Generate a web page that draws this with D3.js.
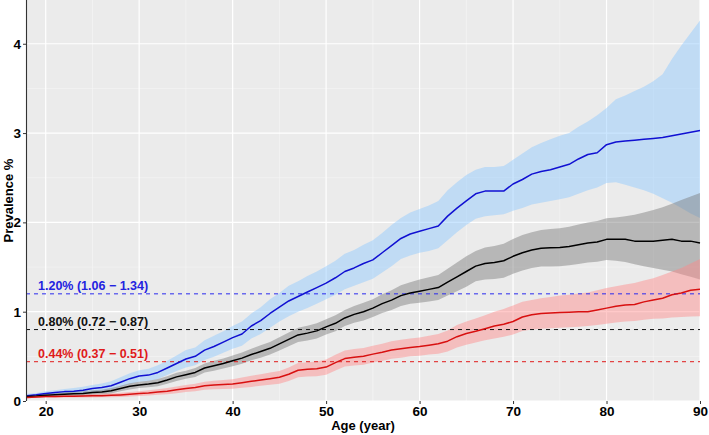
<!DOCTYPE html>
<html>
<head>
<meta charset="utf-8">
<script src="https://cdn.jsdelivr.net/npm/d3@7"></script>
<style>
  html, body { margin: 0; padding: 0; background: #fff; }
  svg { display: block; font-family: "Liberation Sans", Arial, sans-serif; }
</style>
</head>
<body>
<svg id="chart" width="709" height="435"></svg>
<script>
const ages = [18,19,20,21,22,23,24,25,26,27,28,29,30,31,32,33,34,35,36,37,38,39,40,41,42,43,44,45,46,47,48,49,50,51,52,53,54,55,56,57,58,59,60,61,62,63,64,65,66,67,68,69,70,71,72,73,74,75,76,77,78,79,80,81,82,83,84,85,86,87,88,89,90];

const blueMean = [0.06,0.07,0.085,0.095,0.105,0.11,0.12,0.14,0.15,0.17,0.21,0.25,0.28,0.29,0.32,0.37,0.42,0.47,0.50,0.57,0.61,0.66,0.71,0.75,0.84,0.90,0.98,1.05,1.12,1.17,1.22,1.27,1.32,1.38,1.45,1.49,1.54,1.58,1.66,1.74,1.82,1.87,1.90,1.93,1.96,2.07,2.16,2.24,2.32,2.35,2.35,2.35,2.43,2.48,2.54,2.57,2.59,2.62,2.65,2.71,2.76,2.78,2.87,2.90,2.91,2.92,2.93,2.94,2.95,2.97,2.99,3.01,3.03];
const blueUpper = [0.08,0.09,0.11,0.12,0.135,0.145,0.16,0.18,0.195,0.22,0.265,0.31,0.345,0.36,0.40,0.45,0.51,0.57,0.60,0.68,0.73,0.78,0.84,0.89,0.98,1.05,1.14,1.21,1.29,1.34,1.40,1.45,1.51,1.57,1.65,1.69,1.75,1.80,1.88,1.97,2.05,2.11,2.15,2.19,2.24,2.36,2.45,2.53,2.59,2.62,2.62,2.63,2.70,2.77,2.84,2.89,2.93,2.97,3.00,3.07,3.13,3.20,3.28,3.38,3.42,3.47,3.52,3.58,3.66,3.83,3.98,4.12,4.26];
const blueLower = [0.04,0.05,0.06,0.07,0.075,0.08,0.085,0.10,0.11,0.125,0.16,0.19,0.215,0.225,0.245,0.29,0.335,0.375,0.40,0.46,0.495,0.54,0.585,0.62,0.70,0.75,0.82,0.89,0.95,1.00,1.04,1.09,1.14,1.19,1.25,1.29,1.33,1.37,1.44,1.51,1.59,1.63,1.66,1.68,1.71,1.80,1.89,1.97,2.04,2.07,2.08,2.09,2.13,2.16,2.20,2.22,2.24,2.26,2.28,2.32,2.36,2.39,2.44,2.45,2.42,2.39,2.36,2.32,2.27,2.22,2.16,2.10,2.05];

const blackMean = [0.05,0.055,0.065,0.07,0.075,0.08,0.085,0.095,0.10,0.115,0.14,0.165,0.18,0.19,0.205,0.235,0.27,0.295,0.32,0.37,0.395,0.42,0.45,0.48,0.52,0.555,0.59,0.64,0.69,0.74,0.76,0.785,0.83,0.87,0.93,0.97,1.00,1.04,1.09,1.13,1.18,1.21,1.23,1.25,1.27,1.33,1.39,1.45,1.51,1.54,1.55,1.57,1.62,1.66,1.69,1.71,1.715,1.72,1.73,1.75,1.77,1.78,1.81,1.81,1.81,1.79,1.79,1.79,1.80,1.81,1.79,1.79,1.77];
const blackUpper = [0.065,0.07,0.085,0.09,0.097,0.103,0.11,0.12,0.127,0.145,0.172,0.2,0.215,0.227,0.245,0.278,0.315,0.34,0.37,0.42,0.45,0.477,0.51,0.543,0.585,0.625,0.66,0.715,0.768,0.82,0.843,0.87,0.915,0.96,1.02,1.065,1.10,1.14,1.195,1.24,1.295,1.33,1.36,1.385,1.41,1.48,1.55,1.62,1.68,1.72,1.735,1.76,1.815,1.86,1.89,1.915,1.925,1.935,1.95,1.975,2.0,2.015,2.045,2.055,2.07,2.085,2.11,2.14,2.17,2.21,2.25,2.29,2.33];
const blackLower = [0.035,0.04,0.045,0.05,0.053,0.057,0.06,0.07,0.073,0.085,0.108,0.13,0.145,0.153,0.165,0.192,0.225,0.25,0.27,0.32,0.34,0.363,0.39,0.417,0.455,0.485,0.52,0.565,0.612,0.66,0.677,0.70,0.745,0.78,0.84,0.875,0.90,0.94,0.985,1.02,1.065,1.09,1.10,1.115,1.13,1.18,1.23,1.28,1.34,1.36,1.365,1.38,1.425,1.46,1.49,1.505,1.505,1.51,1.52,1.535,1.55,1.56,1.58,1.57,1.555,1.53,1.51,1.49,1.47,1.45,1.42,1.39,1.36];

const redMean = [0.04,0.045,0.05,0.05,0.052,0.054,0.056,0.058,0.06,0.063,0.068,0.075,0.083,0.09,0.10,0.11,0.125,0.14,0.15,0.17,0.18,0.185,0.19,0.205,0.22,0.235,0.25,0.265,0.30,0.345,0.355,0.36,0.38,0.43,0.475,0.49,0.50,0.525,0.545,0.57,0.585,0.60,0.61,0.625,0.64,0.67,0.72,0.755,0.78,0.81,0.84,0.86,0.89,0.94,0.965,0.98,0.985,0.99,0.995,1.0,1.0,1.02,1.04,1.06,1.075,1.08,1.11,1.13,1.15,1.19,1.21,1.24,1.25];
const redUpper = [0.05,0.055,0.062,0.064,0.067,0.07,0.073,0.077,0.08,0.085,0.092,0.10,0.11,0.12,0.132,0.145,0.162,0.18,0.192,0.215,0.228,0.235,0.243,0.262,0.283,0.30,0.318,0.336,0.375,0.425,0.435,0.442,0.465,0.518,0.565,0.582,0.593,0.62,0.642,0.668,0.685,0.70,0.712,0.73,0.75,0.79,0.85,0.89,0.925,0.96,1.0,1.03,1.07,1.11,1.13,1.15,1.165,1.18,1.19,1.205,1.215,1.24,1.265,1.285,1.305,1.32,1.35,1.375,1.41,1.45,1.49,1.54,1.59];
const redLower = [0.03,0.035,0.038,0.037,0.038,0.039,0.04,0.04,0.041,0.042,0.046,0.051,0.057,0.062,0.069,0.076,0.088,0.1,0.108,0.125,0.132,0.135,0.138,0.148,0.158,0.17,0.182,0.194,0.225,0.265,0.275,0.278,0.295,0.342,0.385,0.398,0.407,0.43,0.448,0.472,0.485,0.50,0.508,0.52,0.53,0.555,0.60,0.63,0.655,0.68,0.70,0.72,0.745,0.785,0.80,0.81,0.815,0.82,0.825,0.83,0.84,0.85,0.865,0.88,0.89,0.895,0.91,0.92,0.925,0.935,0.94,0.945,0.95];

const overallValues = [1.20, 0.80, 0.44];
const overallLabels = ["1.20% (1.06 \u2212 1.34)", "0.80% (0.72 \u2212 0.87)", "0.44% (0.37 \u2212 0.51)"];

const xTicks = [20,30,40,50,60,70,80,90];
const xMinor = [25,35,45,55,65,75,85];
const yTicks = [0,1,2,3,4];
const yMinor = [0.5,1.5,2.5,3.5];

const xLabel = "Age (year)";
const yLabel = "Prevalence %";

(function () {
const svg = d3.select("#chart");
const pL = 26, pR = 700, pT = 0, pB = 401;

const x = d3.scaleLinear().domain([18, 90]).range([pL + 1, pR]);
const y = d3.scaleLinear().domain([0, 4.49]).range([pB, pT]);

svg.append("rect").attr("x", pL).attr("y", pT).attr("width", pR - pL).attr("height", pB - pT).attr("fill", "#EBEBEB");

const grid = svg.append("g");
grid.selectAll(".xmin").data(xMinor).join("line")
  .attr("x1", d => x(d)).attr("x2", d => x(d)).attr("y1", pT).attr("y2", pB)
  .attr("stroke", "#F7F7F7").attr("stroke-width", 0.6);
grid.selectAll(".ymin").data(yMinor).join("line")
  .attr("x1", pL).attr("x2", pR).attr("y1", d => y(d)).attr("y2", d => y(d))
  .attr("stroke", "#F7F7F7").attr("stroke-width", 0.6);
grid.selectAll(".xmaj").data(xTicks).join("line")
  .attr("x1", d => x(d)).attr("x2", d => x(d)).attr("y1", pT).attr("y2", pB)
  .attr("stroke", "#FFFFFF").attr("stroke-width", 1.2);
grid.selectAll(".ymaj").data(yTicks).join("line")
  .attr("x1", pL).attr("x2", pR).attr("y1", d => y(d)).attr("y2", d => y(d))
  .attr("stroke", "#FFFFFF").attr("stroke-width", 1.2);

const series = [
  { mean: blueMean, lo: blueLower, hi: blueUpper, fill: "rgb(139,199,255)", line: "#1010D2", dash: "#2a2aee", text: "#2323E0" },
  { mean: blackMean, lo: blackLower, hi: blackUpper, fill: "rgb(119,119,119)", line: "#000000", dash: "#111111", text: "#111111" },
  { mean: redMean, lo: redLower, hi: redUpper, fill: "rgb(255,135,135)", line: "#D81010", dash: "#e01a1a", text: "#E01A1A" }
];

const area = d3.area().x(d => x(d.age)).y0(d => y(d.lo)).y1(d => y(d.hi));
const line = d3.line().x(d => x(d.age)).y(d => y(d.v));

const plot = svg.append("g");
series.forEach(s => {
  const pts = ages.map((a, i) => ({ age: a, lo: s.lo[i], hi: s.hi[i] }));
  plot.append("path").attr("d", area(pts)).attr("fill", s.fill).attr("fill-opacity", 0.45);
});

series.forEach((s, i) => {
  plot.append("line").attr("x1", pL).attr("x2", pR)
    .attr("y1", y(overallValues[i])).attr("y2", y(overallValues[i]))
    .attr("stroke", s.dash).attr("stroke-width", 1).attr("stroke-dasharray", "4,4");
  plot.append("text").attr("x", 38).attr("y", y(overallValues[i]) - 4)
    .attr("fill", s.text).attr("font-size", 12.5).attr("font-weight", "bold")
    .text(overallLabels[i]);
});

series.forEach(s => {
  const pts = ages.map((a, i) => ({ age: a, v: s.mean[i] }));
  plot.append("path").attr("d", line(pts)).attr("fill", "none")
    .attr("stroke", s.line).attr("stroke-width", 1.5).attr("stroke-linejoin", "round");
});

const xAxis = d3.axisBottom(x).tickValues(xTicks).tickSize(3).tickPadding(2).tickFormat(d3.format("d"));
const gx = svg.append("g").attr("transform", `translate(0,${pB})`).call(xAxis);
gx.select(".domain").remove();
gx.selectAll(".tick line").attr("stroke", "#333");
gx.selectAll(".tick text").attr("fill", "#000").attr("font-size", 13.5).attr("font-weight", "bold")
  .attr("font-family", "Liberation Sans, Arial, sans-serif");

const yAxis = d3.axisLeft(y).tickValues(yTicks).tickSize(3).tickPadding(2).tickFormat(d3.format("d"));
const gy = svg.append("g").attr("transform", `translate(${pL},0)`).call(yAxis);
gy.select(".domain").attr("stroke", "#333").attr("stroke-width", 1.1).attr("d", `M0.5,${pT}V${pB}`);
gy.selectAll(".tick line").attr("stroke", "#333");
gy.selectAll(".tick text").attr("fill", "#000").attr("font-size", 13.5).attr("font-weight", "bold")
  .attr("font-family", "Liberation Sans, Arial, sans-serif");

svg.append("text").attr("x", (pL + pR) / 2).attr("y", 430).attr("text-anchor", "middle")
  .attr("font-size", 13).attr("font-weight", "bold").attr("fill", "#000").text(xLabel);
svg.append("text").attr("transform", `translate(13,${(pT + pB) / 2}) rotate(-90)`)
  .attr("text-anchor", "middle").attr("font-size", 13).attr("font-weight", "bold").attr("fill", "#000").text(yLabel);
})();
</script>
</body>
</html>
